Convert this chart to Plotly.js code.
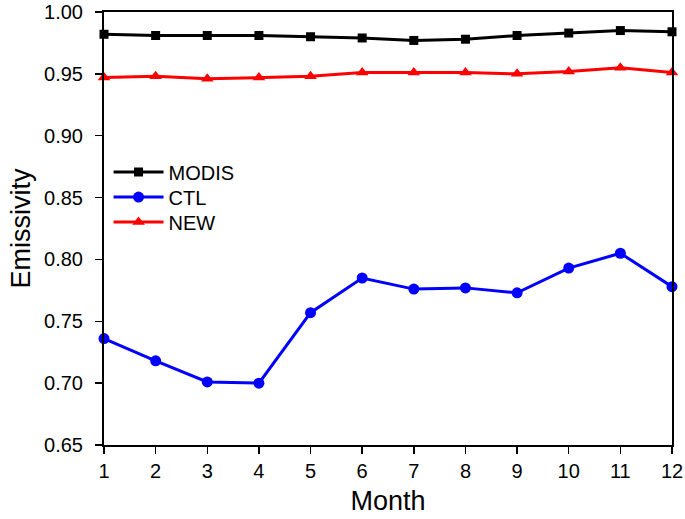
<!DOCTYPE html>
<html><head><meta charset="utf-8">
<script src="https://cdn.plot.ly/plotly-3.0.1.min.js"></script>
<style>body{margin:0;background:#fff}#c{width:685px;height:519px}</style>
</head><body><div id="c"></div>
<script>
var months = [1,2,3,4,5,6,7,8,9,10,11,12];
var modis = [0.982,0.981,0.981,0.981,0.980,0.979,0.977,0.978,0.981,0.983,0.985,0.984];
var ctl = [0.736,0.718,0.701,0.700,0.757,0.785,0.776,0.777,0.773,0.793,0.805,0.778];
var newv = [0.947,0.948,0.946,0.947,0.948,0.951,0.951,0.951,0.950,0.952,0.955,0.951];
var tickVals = [0.65,0.70,0.75,0.80,0.85,0.90,0.95,1.00];
var tickText = ["0.65","0.70","0.75","0.80","0.85","0.90","0.95","1.00"];

var traces = [
 {x:months,y:modis,name:'MODIS',legend:'legend',mode:'lines+markers',line:{color:'#000000',width:3},marker:{symbol:'square',size:9,color:'#000000'},cliponaxis:false},
 {x:months,y:ctl,name:'CTL',legend:'legend2',mode:'lines+markers',line:{color:'#0000ff',width:3},marker:{symbol:'circle',size:11,color:'#0000ff'},cliponaxis:false},
 {x:months,y:newv,name:'NEW',legend:'legend3',mode:'lines+markers',line:{color:'#ff0000',width:3},marker:{symbol:'triangle-up',size:11,color:'#ff0000'},cliponaxis:false}
];
function leg(y){return {x:0.008,y:y,xanchor:'left',yanchor:'middle',bgcolor:'rgba(0,0,0,0)',font:{size:20},itemwidth:50};}
var layout = {
 width:685,height:519,
 margin:{l:104,r:13,t:12,b:74},
 paper_bgcolor:'#fff',plot_bgcolor:'#fff',
 font:{family:'Liberation Sans, Arial, sans-serif',color:'#000',size:20},
 showlegend:true,
 legend:leg(0.6305),
 legend2:leg(0.5727),
 legend3:leg(0.515),
 xaxis:{range:[1,12],tickvals:months,ticks:'outside',ticklen:7,tickwidth:1.5,tickcolor:'#000',
   showline:true,linecolor:'#000',linewidth:2,mirror:true,showgrid:false,zeroline:false,
   tickfont:{size:20},title:{text:'Month',font:{size:27},standoff:10}},
 yaxis:{range:[0.65,1.00],tickvals:tickVals,ticktext:tickText,ticks:'outside',ticklen:7,tickwidth:1.5,tickcolor:'#000',
   ticklabelstandoff:8,
   showline:true,linecolor:'#000',linewidth:2,mirror:true,showgrid:false,zeroline:false,
   tickfont:{size:20},title:{text:'Emissivity',font:{size:27},standoff:6}}
};
Plotly.newPlot('c',traces,layout,{displayModeBar:false,staticPlot:true});
</script></body></html>
